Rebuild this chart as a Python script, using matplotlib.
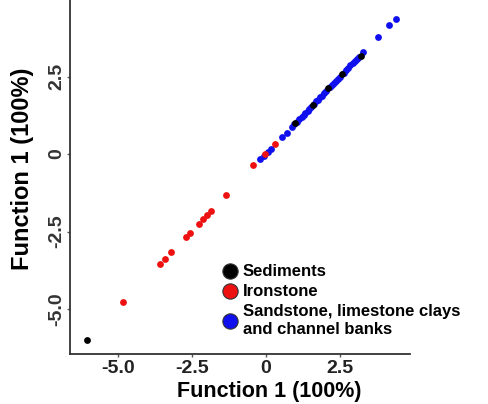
import matplotlib
matplotlib.use("Agg")
import matplotlib.pyplot as plt
from matplotlib.lines import Line2D

plt.rcParams['font.family'] = ['Liberation Sans', 'DejaVu Sans']

# Data (Function 1 plotted against itself)
sed_x = [-6.05, 0.98, 1.59, 2.09, 2.57, 3.20]
sed_y = [-6.00, 1.00, 1.58, 2.13, 2.58, 3.16]

iron_x = [-4.83, -3.58, -3.41, -3.21, -2.70, -2.57, -2.26, -2.13, -1.99, -1.86, -1.35, -0.44, -0.03, 0.30]
iron_y = [-4.77, -3.55, -3.39, -3.16, -2.68, -2.55, -2.26, -2.10, -1.97, -1.84, -1.32, -0.35, 0.00, 0.32]

sand_x = [-0.20, -0.08, 0.07, 0.15, 0.54, 0.71, 0.88, 0.95, 1.05, 1.12, 1.20, 1.27, 1.33, 1.40,
          1.46, 1.52, 1.63, 1.70, 1.76, 1.82, 1.88, 1.95, 2.02, 2.15, 2.22, 2.30, 2.36, 2.42,
          2.48, 2.62, 2.70, 2.78, 2.85, 2.93, 3.00, 3.07, 3.14, 3.28, 3.78, 4.16, 4.39]
sand_y = [-0.16, -0.06, 0.06, 0.15, 0.55, 0.68, 0.87, 0.96, 1.05, 1.12, 1.19, 1.27, 1.33, 1.40,
          1.46, 1.53, 1.63, 1.70, 1.76, 1.83, 1.88, 1.96, 2.02, 2.16, 2.22, 2.30, 2.36, 2.42,
          2.49, 2.62, 2.70, 2.78, 2.86, 2.93, 3.00, 3.07, 3.14, 3.29, 3.77, 4.16, 4.35]

labels = ["Sediments", "Ironstone", "Sandstone, limestone clays\nand channel banks"]
colors = ["#000000", "#ee1111", "#1010ee"]
xticks = [-5.0, -2.5, 0, 2.5]
xticklabels = ["-5.0", "-2.5", "0", "2.5"]
yticks = [-5.0, -2.5, 0, 2.5]
yticklabels = ["-5.0", "-2.5", "0", "2.5"]

H = 354  # pixel row of the bottom spine
fig = plt.figure(figsize=(4.88, 4.04), dpi=100)
ax = fig.add_axes([70/488, (404 - H)/404, 340/488, H/404])

ax.scatter(sand_x, sand_y, s=24, color=colors[2], zorder=2, linewidths=0)
ax.scatter(iron_x, iron_y, s=24, color=colors[1], zorder=3, linewidths=0)
ax.scatter(sed_x, sed_y, s=24, color=colors[0], zorder=4, linewidths=0)

ax.set_xlim(-6.62, 4.86)
ax.set_ylim(-6.45, 4.97)

for s in ["top", "right"]:
    ax.spines[s].set_visible(False)
for s in ["left", "bottom"]:
    ax.spines[s].set_color("#333333")
    ax.spines[s].set_linewidth(1.3)

ax.set_xticks(xticks)
ax.set_xticklabels(xticklabels, fontsize=14, fontweight="bold", color="#222222")
ax.set_yticks(yticks)
ax.set_yticklabels(yticklabels, fontsize=14, fontweight="bold", rotation=90,
                   va="center", color="#333333")
ax.tick_params(axis="both", length=2.5, width=1, color="#555555")
ax.tick_params(axis="x", pad=1.5)
ax.tick_params(axis="y", pad=1)

ax.set_xlabel("Function 1 (100%)", fontsize=15.5, fontweight="bold")
ax.xaxis.set_label_coords((269 - 70) / 340, -26.5 / H)
ax.set_ylabel("Function 1 (100%)", fontsize=17, fontweight="bold")
ax.yaxis.set_label_coords(-0.105, (H - 169) / H)

handles = [Line2D([0], [0], marker="o", linestyle="", markersize=11,
                  markerfacecolor=c, markeredgecolor="#333333", markeredgewidth=0.8)
           for c in colors]
leg = ax.legend(handles, labels, loc="upper left", bbox_to_anchor=(0.42, (H - 256) / H),
                frameon=False, fontsize=12, handletextpad=0.2, labelspacing=0.3,
                borderpad=0, handlelength=1.1)
for t in leg.get_texts():
    t.set_fontweight("bold")

fig.savefig("out.png", dpi=100)
